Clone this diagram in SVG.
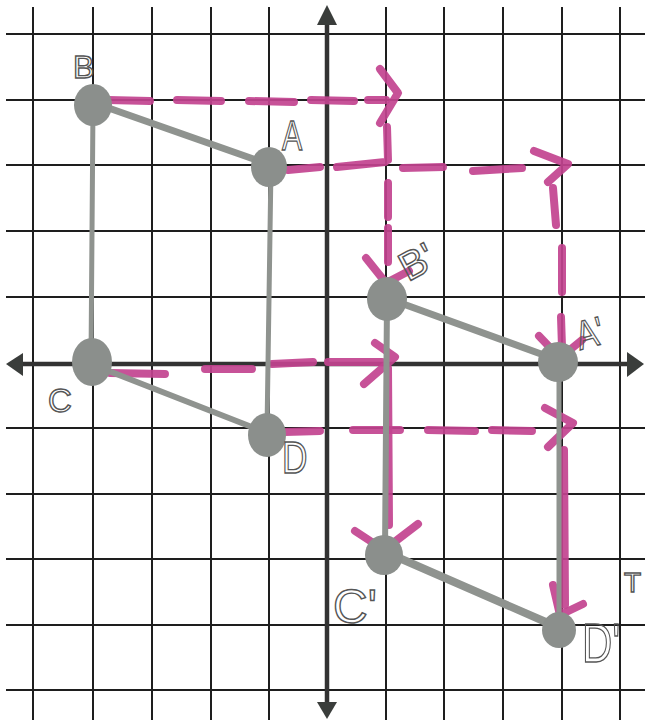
<svg xmlns="http://www.w3.org/2000/svg" width="645" height="723" viewBox="0 0 645 723">
<defs>
<style>
.grid{stroke:#1e1e1e;stroke-width:2;fill:none}
.axis{stroke:#333;stroke-width:4.5;fill:none}
.arr{fill:#3a3d3b}
.pk{stroke:#c2438f;stroke-width:8;stroke-linecap:round;stroke-linejoin:round;fill:none;opacity:0.92}
.gl{stroke:#8f938f;stroke-linecap:round;fill:none}
.dot{fill:#8b8f8c}
.lbl{font-family:"Liberation Sans",Arial,sans-serif;fill:none;stroke:#555;stroke-width:1.4}
</style>
</defs>
<rect width="645" height="723" fill="#ffffff"/>
<g id="grid">
<path class="grid" d="M33 7V720M93 7V720M152 7V720M211 7V720M269 7V720M386 7V720M444 7V720M503 7V720M562 7V720M620 7V720"/>
<path class="grid" d="M6 34H645M6 100H645M6 165H645M6 231H645M6 297H645M6 428H645M6 494H645M6 559H645M6 625H645M6 690H645"/>
</g>
<g id="axes">
<path class="axis" d="M327 20V705M20 364H630"/>
<polygon class="arr" points="327,5 337,25 317,25"/>
<polygon class="arr" points="327,719 337,702 317,702"/>
<polygon class="arr" points="6,364 23,353 23,376"/>
<polygon class="arr" points="644,364 627,352 627,377"/>
</g>
<g id="connectors">
<g id="translation-arrows">
<path class="pk" d="M108 100L150 101M177 100L221 101M249 101L294 102M311 100L354 101M368 100L386 100"/>
<polyline class="pk" points="380,69 398,93 380,123"/>
<path class="pk" d="M387 127L388 160M337 167L385 162M388 183L388 217M388 228L388 262"/>
<polyline class="pk" points="366,258 386,283 409,271"/>
<path class="pk" d="M288 170L320 167M403 168L443 167M473 171L522 168"/>
<polyline class="pk" points="534,151 568,164 548,182"/>
<path class="pk" d="M553 188L556 225M562 248L562 292M561 317L562 347"/>
<polyline class="pk" points="539,336 560,358 582,340"/>
<path class="pk" d="M110 373L165 374M205 369L252 369M272 364L313 362M328 362L382 362"/>
<polyline class="pk" points="375,343 395,357 364,384"/>
<path class="pk" d="M388 368L389 525"/>
<polyline class="pk" points="355,531 384,550 418,524"/>
<path class="pk" d="M285 432L320 431M353 430L400 430M428 430L475 431M492 430L532 431"/>
<polyline class="pk" points="545,408 573,423 548,447"/>
<path class="pk" d="M564 450L565 605"/>
<polyline class="pk" points="553,585 560,615 583,604"/>
</g>
<g id="figure-ABCD">
<line class="gl" x1="100" y1="105" x2="262" y2="162" stroke-width="7"/>
<line class="gl" x1="93" y1="105" x2="91" y2="360" stroke-width="5"/>
<line class="gl" x1="271" y1="167" x2="267" y2="430" stroke-width="5"/>
<line class="gl" x1="96" y1="366" x2="262" y2="431" stroke-width="6"/>
</g>
<g id="figure-ABCD-prime">
<line class="gl" x1="395" y1="301" x2="552" y2="358" stroke-width="7"/>
<line class="gl" x1="387" y1="300" x2="385" y2="553" stroke-width="6"/>
<line class="gl" x1="559" y1="364" x2="559" y2="628" stroke-width="5"/>
<line class="gl" x1="390" y1="554" x2="555" y2="626" stroke-width="8"/>
</g>
</g>
<g id="node-B"><ellipse class="dot" cx="93" cy="105" rx="19" ry="21"/><text class="lbl" x="73" y="78" font-size="32">B</text></g>
<g id="node-A"><ellipse class="dot" cx="269" cy="167" rx="18" ry="20"/><text class="lbl" font-size="42" transform="translate(282,150) scale(0.72,1)">A</text></g>
<g id="node-C"><ellipse class="dot" cx="92" cy="362" rx="20" ry="24"/><text class="lbl" x="48" y="412" font-size="33">C</text></g>
<g id="node-D"><ellipse class="dot" cx="267" cy="435" rx="19" ry="22"/><text class="lbl" font-size="44" transform="translate(282,473) scale(0.8,1)">D</text></g>
<g id="node-B-prime"><ellipse class="dot" cx="387" cy="299" rx="20" ry="22"/><text class="lbl" font-size="40" transform="translate(408,282) rotate(-28)">B'</text></g>
<g id="node-A-prime"><ellipse class="dot" cx="558" cy="362" rx="20" ry="20"/><text class="lbl" font-size="40" transform="translate(580,350) rotate(-15) scale(0.8,1)">A'</text></g>
<g id="node-C-prime"><ellipse class="dot" cx="384" cy="555" rx="19" ry="20"/><text class="lbl" x="333" y="623" font-size="48">C'</text></g>
<g id="node-D-prime"><ellipse class="dot" cx="559" cy="630" rx="17" ry="18"/><text class="lbl" font-size="56" transform="translate(582,662) scale(0.75,1)">D'</text></g>
<text class="lbl" x="624" y="592" font-size="28">T</text>
</svg>
